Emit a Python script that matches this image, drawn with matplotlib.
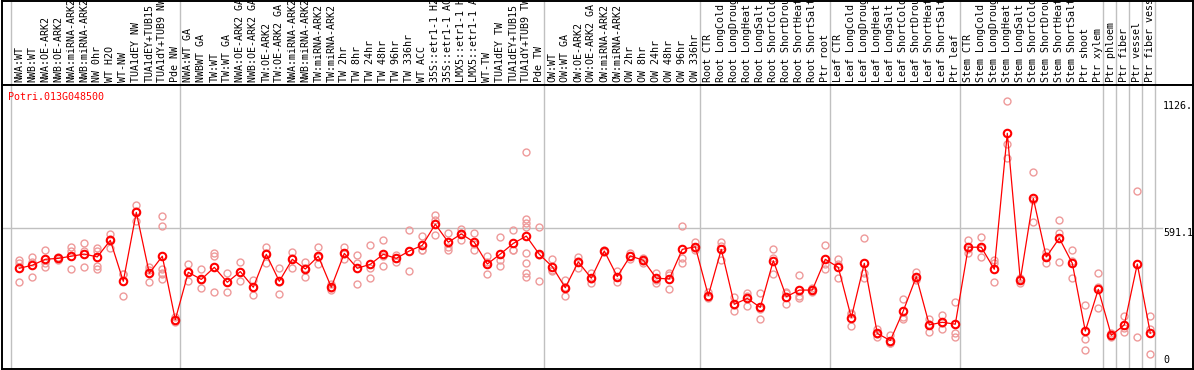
import matplotlib
matplotlib.use("Agg")
import matplotlib.pyplot as plt
import matplotlib.transforms as mtransforms

# sample groups (labels are cut to 14 chars like in the original plot)
group_labels = [
    ["NWA:WT", "NWB:WT", "NWA:OE-ARK2", "NWB:OE-ARK2", "NWA:miRNA-ARK2", "NWB:miRNA-ARK2",
     "NW 0hr", "WT H2O", "WT-NW", "TUA1dEY NW", "TUA1dEY+TUB15", "TUA1dY+TUB9 NW", "Pde NW"],
    ["NWA:WT GA", "NWBWT GA", "TW:WT", "TW:WT GA", "NWA:OE-ARK2 GA", "NWB:OE-ARK2 GA",
     "TW:OE-ARK2", "TW:OE-ARK2 GA", "NWA:miRNA-ARK2", "NWB:miRNA-ARK2", "TW:miRNA-ARK2",
     "TW:miRNA-ARK2", "TW 2hr", "TW 8hr", "TW 24hr", "TW 48hr", "TW 96hr", "TW 336hr",
     "WT ACC", "35S::etr1-1 H2", "35S::etr1-1 AC", "LMX5::etr1-1 H", "LMX5::etr1-1 A",
     "WT-TW", "TUA1dEY TW", "TUA1dEY+TUB15", "TUA1dY+TUB9 TW", "Pde TW"],
    ["OW:WT", "OW:WT GA", "OW:OE-ARK2", "OW:OE-ARK2 GA", "OW:miRNA-ARK2", "OW:miRNA-ARK2",
     "OW 2hr", "OW 8hr", "OW 24hr", "OW 48hr", "OW 96hr", "OW 336hr"],
    ["Root CTR", "Root LongCold", "Root LongDroug", "Root LongHeat", "Root LongSalt",
     "Root ShortCold", "Root ShortDrou", "Root ShortHeat", "Root ShortSalt", "Ptr root"],
    ["Leaf CTR", "Leaf LongCold", "Leaf LongDroug", "Leaf LongHeat", "Leaf LongSalt",
     "Leaf ShortCold", "Leaf ShortDrou", "Leaf ShortHeat", "Leaf ShortSalt", "Ptr leaf"],
    ["Stem CTR", "Stem LongCold", "Stem LongDroug", "Stem LongHeat", "Stem LongSalt",
     "Stem ShortCold", "Stem ShortDrou", "Stem ShortHeat", "Stem ShortSalt", "Ptr shoot",
     "Ptr xylem"],
    ["Ptr phloem"],
    ["Ptr fiber"],
    ["Ptr vessel"],
    ["Ptr fiber vess"],
]

means = [421, 434, 459, 463, 472, 481, 469, 539, 366, 657, 400, 472, 204,
         404, 374, 425, 362, 407, 341, 480, 366, 459, 418, 472, 341, 484, 421,
         438, 480, 463, 494, 518, 607, 531, 566, 531, 439, 481, 526, 557, 480,
         428, 339, 448, 379, 494, 386, 473, 455, 379, 376, 501, 512,
         306, 501, 269, 294, 256, 453, 301, 329, 329, 459,
         425, 213, 442, 146, 116, 241, 386, 182, 193, 185,
         510, 510, 417, 991, 372, 716, 469, 548, 442, 156, 332,
         138, 182, 439, 147]

replicates = [
    [456, 445, 365], [467, 449, 386], [497, 442, 428], [470, 463, 456],
    [512, 494, 417], [526, 495, 425], [508, 494, 431, 417], [566, 545, 505],
    [396, 397, 306], [687, 663, 622], [425, 414, 365],
    [640, 598, 417, 403, 397, 374], [217, 196, 204],
    [438, 367, 405], [417, 336, 370], [487, 473, 320], [403, 320, 362],
    [448, 369, 404], [372, 310, 341], [511, 443, 486], [424, 311, 364],
    [488, 424, 465], [446, 386, 422], [510, 438, 467], [353, 329, 339],
    [510, 460, 483], [477, 442, 353], [519, 421, 379], [539, 429, 472],
    [477, 449, 463], [581, 408, 492], [556, 498, 500], [646, 625, 560],
    [569, 512, 498], [586, 541, 571], [569, 498, 525], [473, 397, 448],
    [552, 456, 429], [581, 498, 500], [628, 614, 597, 484, 442, 403, 386, 912],
    [595, 367, 477],
    [459, 414, 411], [372, 306, 341], [470, 422, 450], [400, 360, 376],
    [498, 490, 494], [410, 365, 383], [487, 459, 473], [466, 445, 453],
    [403, 360, 373], [403, 332, 393], [598, 463, 442], [533, 498, 505],
    [322, 294, 300], [533, 456, 514], [301, 241, 265], [315, 263, 304],
    [315, 206, 248], [501, 396, 463], [315, 269, 320], [391, 294, 303],
    [336, 322, 329], [519, 417, 441],
    [459, 379, 438], [234, 177, 227], [548, 379, 400], [163, 132, 144],
    [139, 104, 107], [290, 214, 208], [407, 372, 379], [207, 151, 187],
    [224, 163, 192], [279, 147, 132],
    [541, 484, 504], [553, 467, 508], [456, 445, 363], [1126, 946, 885],
    [382, 358, 376], [826, 615, 708], [491, 442, 473], [624, 569, 448],
    [497, 379, 450], [265, 121, 75], [400, 344, 252],
    [132, 147, 137], [221, 154, 168], [746, 131, 440], [218, 163, 58],
]

gene = "Potri.013G048500"
y_ticks = [1126, 591.1, 0]
y_tick_labels = ["1126.", "591.1", "0"]
y_top = 1182.2

# layout in pixels
W, H = 1194, 370
X0, STEP = 19.3, 13.0          # pixel x of first sample, spacing
PLOT_L, PLOT_R = 1.5, 1193.0
LAB_TOP, LAB_BOT = 0.5, 85.0
PLOT_BOT = 369.0
ZERO_PX, TOP_PX = 368.0, 88.0

mono = "DejaVu Sans Mono"
fs = 7.2
grey = "#c0c0c0"


def px_box(x0, y0, x1, y1):
    return [x0 / W, 1 - y1 / H, (x1 - x0) / W, (y1 - y0) / H]


fig = plt.figure(figsize=(W / 100, H / 100), dpi=100)
ax_lab = fig.add_axes(px_box(PLOT_L, LAB_TOP, PLOT_R, LAB_BOT))
ax = fig.add_axes(px_box(PLOT_L, LAB_BOT, PLOT_R, PLOT_BOT))

xlim = ((PLOT_L - X0) / STEP, (PLOT_R - X0) / STEP)
per_px = y_top / (ZERO_PX - TOP_PX)
ylim = (-(PLOT_BOT - ZERO_PX) * per_px, (ZERO_PX - LAB_BOT) * per_px)

labels = [lab for g in group_labels for lab in g]
xs = list(range(len(labels)))

# group separators
bounds = [0]
for g in group_labels:
    bounds.append(bounds[-1] + len(g))

for a in (ax, ax_lab):
    a.set_xlim(*xlim)
    a.set_xticks([])
    a.set_yticks([])
    for s in a.spines.values():
        s.set_linewidth(1.4)
        s.set_color("black")
    for b in bounds:
        a.axvline(b - 0.65, color=grey, lw=1.0, zorder=0)

ax_lab.set_ylim(0, 1)
for x, lab in zip(xs, labels):
    t = ax_lab.text(x, 3 / (LAB_BOT - LAB_TOP), lab, rotation=90, ha="center", va="bottom",
                    family=mono, fontsize=fs, color="black")
    t.set_clip_on(True)

ax.set_ylim(*ylim)
right_frac = (1162 - PLOT_L) / (PLOT_R - PLOT_L)
ax.axhline(y_ticks[1], xmax=right_frac, color=grey, lw=1.0, zorder=0)

# replicate points
for x, reps in zip(xs, replicates):
    ax.plot([x] * len(reps), reps, linestyle="none", marker="o", markersize=5.0,
            markerfacecolor="none", markeredgecolor="#ee9a9a", markeredgewidth=1.0, zorder=2)

ax.plot(xs, means, color="red", lw=0.9, zorder=3)
ax.plot(xs, means, linestyle="none", marker="o", markersize=5.4, markerfacecolor="none",
        markeredgecolor="red", markeredgewidth=1.5, zorder=4)

trans = mtransforms.blended_transform_factory(ax.transAxes, ax.transData)
lab_x = (1163 - PLOT_L) / (PLOT_R - PLOT_L)
for v, s in zip(y_ticks, y_tick_labels):
    if v == 0:
        ax.text(lab_x, v + 3 * per_px, s, transform=trans, ha="left", va="bottom",
                family=mono, fontsize=fs, clip_on=True)
    else:
        ax.text(lab_x, v, s, transform=trans, ha="left", va="top",
                family=mono, fontsize=fs, clip_on=True)

fig.text(8 / W, 1 - 97 / H, gene, color="red", ha="left", va="center",
         family=mono, fontsize=fs)

fig.savefig("out.png", dpi=100)
